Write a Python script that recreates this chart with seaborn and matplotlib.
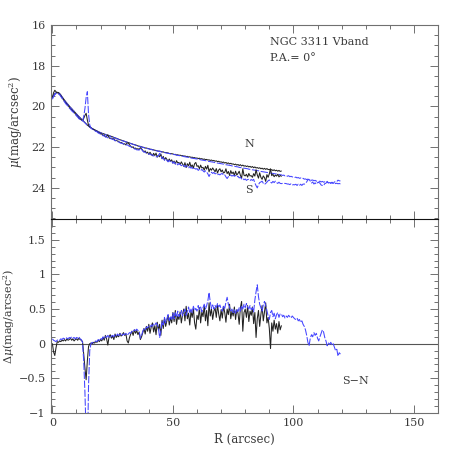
import numpy as np
import pandas as pd
import matplotlib
matplotlib.use("Agg")
import matplotlib.pyplot as plt
from matplotlib.ticker import MultipleLocator, FixedLocator, FuncFormatter
import seaborn as sns

# ---------------- data ----------------
step = 0.5
r_black = np.arange(0, 95.0 + step / 2, step)    # sampling radii, black profile
r_blue = np.arange(0, 119.5 + step / 2, step)    # sampling radii, blue profile

# North surface-brightness profile, black
mu_n_black = [
    19.55, 19.45, 19.38, 19.34, 19.31, 19.32, 19.37, 19.44, 19.53, 19.61,
    19.69, 19.77, 19.84, 19.91, 19.98, 20.05, 20.11, 20.18, 20.24, 20.31,
    20.37, 20.44, 20.50, 20.56, 20.62, 20.68, 20.74, 20.80, 20.86, 20.92,
    20.97, 21.01, 21.05, 21.09, 21.12, 21.15, 21.18, 21.21, 21.24, 21.27,
    21.29, 21.32, 21.34, 21.36, 21.38, 21.41, 21.42, 21.44, 21.46, 21.48,
    21.50, 21.53, 21.55, 21.57, 21.59, 21.62, 21.64, 21.66, 21.68, 21.70,
    21.72, 21.75, 21.76, 21.79, 21.80, 21.83, 21.84, 21.87, 21.88, 21.90,
    21.92, 21.95, 21.96, 21.97, 21.99, 22.01, 22.02, 22.05, 22.05, 22.07,
    22.08, 22.11, 22.11, 22.13, 22.14, 22.16, 22.17, 22.19, 22.20, 22.20,
    22.22, 22.24, 22.24, 22.27, 22.27, 22.28, 22.29, 22.32, 22.32, 22.33,
    22.34, 22.37, 22.36, 22.39, 22.38, 22.41, 22.40, 22.43, 22.42, 22.45,
    22.44, 22.47, 22.46, 22.49, 22.48, 22.51, 22.50, 22.53, 22.52, 22.55,
    22.54, 22.57, 22.55, 22.59, 22.57, 22.61, 22.59, 22.62, 22.61, 22.64,
    22.63, 22.66, 22.64, 22.68, 22.66, 22.70, 22.68, 22.72, 22.70, 22.74,
    22.73, 22.76, 22.74, 22.79, 22.76, 22.81, 22.78, 22.83, 22.80, 22.84,
    22.83, 22.87, 22.84, 22.89, 22.86, 22.91, 22.87, 22.93, 22.89, 22.94,
    22.92, 22.96, 22.93, 22.98, 22.95, 23.00, 22.96, 23.02, 22.98, 23.03,
    23.01, 23.05, 23.02, 23.07, 23.04, 23.09, 23.05, 23.10, 23.06, 23.11,
    23.10, 23.14, 23.11, 23.16, 23.12, 23.17, 23.14, 23.19, 23.15, 23.20,
    23.18,
]

# South minus North difference, black
d_black = [
    0.00, -0.12, -0.17, -0.06, 0.03, 0.02, 0.04, 0.03, 0.05, 0.04,
    0.06, 0.04, 0.07, 0.05, 0.06, 0.08, 0.05, 0.07, 0.04, 0.06,
    0.07, 0.05, 0.08, 0.06, 0.05, 0.03, -0.15, -0.35, -0.52, -0.25,
    -0.04, 0.00, 0.01, 0.00, 0.02, 0.01, 0.03, 0.02, 0.05, 0.03,
    0.06, 0.04, 0.09, 0.05, 0.12, 0.07, -0.02, 0.10, 0.13, 0.08,
    0.11, 0.06, 0.14, 0.09, 0.12, 0.10, 0.15, 0.11, 0.13, 0.16,
    0.12, 0.14, 0.04, 0.01, 0.09, 0.14, 0.18, 0.12, 0.20, 0.15,
    0.19, 0.13, 0.17, 0.06, 0.10, 0.16, 0.22, 0.14, 0.25, 0.18,
    0.28, 0.15, 0.24, 0.30, 0.17, 0.26, 0.13, 0.31, 0.20, 0.28,
    0.12, 0.34, 0.22, 0.37, 0.25, 0.33, 0.41, 0.27, 0.38, 0.30,
    0.45, 0.32, 0.48, 0.28, 0.40, 0.35, 0.46, 0.30, 0.42, 0.50,
    0.33, 0.54, 0.36, 0.44, 0.27, 0.47, 0.38, 0.51, 0.30, 0.21,
    0.41, 0.35, 0.52, 0.30, 0.46, 0.39, 0.55, 0.33, 0.48, 0.26,
    0.59, 0.40, 0.50, 0.35, 0.47, 0.52, 0.38, 0.56, 0.43, 0.33,
    0.49, 0.37, 0.54, 0.45, 0.31, 0.50, 0.42, 0.57, 0.36, 0.47,
    0.40, 0.53, 0.35, 0.49, 0.44, 0.28, 0.52, 0.61, 0.18, 0.45,
    0.50, 0.38, 0.55, 0.32, 0.47, 0.41, 0.53, 0.29, 0.45, 0.09,
    0.36, 0.48, 0.25, 0.42, 0.55, 0.33, 0.46, 0.59, 0.30, 0.38,
    0.22, -0.07, 0.30, 0.18, 0.34, 0.21, 0.29, 0.15, 0.32, 0.20,
    0.26,
]

# North surface-brightness profile, blue
mu_n_blue = [
    19.58, 19.47, 19.39, 19.34, 19.32, 19.33, 19.38, 19.45, 19.54, 19.62,
    19.70, 19.78, 19.85, 19.92, 19.99, 20.06, 20.12, 20.19, 20.25, 20.32,
    20.38, 20.45, 20.51, 20.57, 20.63, 20.69, 20.75, 20.81, 20.87, 20.93,
    20.98, 21.02, 21.06, 21.10, 21.13, 21.16, 21.19, 21.22, 21.25, 21.28,
    21.30, 21.33, 21.35, 21.37, 21.39, 21.42, 21.43, 21.45, 21.47, 21.49,
    21.51, 21.54, 21.56, 21.58, 21.60, 21.63, 21.65, 21.67, 21.69, 21.71,
    21.73, 21.75, 21.77, 21.79, 21.81, 21.83, 21.85, 21.87, 21.89, 21.91,
    21.93, 21.95, 21.97, 21.98, 22.00, 22.02, 22.03, 22.05, 22.06, 22.08,
    22.09, 22.11, 22.12, 22.14, 22.15, 22.17, 22.18, 22.19, 22.21, 22.22,
    22.23, 22.25, 22.26, 22.27, 22.29, 22.30, 22.31, 22.32, 22.34, 22.35,
    22.36, 22.37, 22.38, 22.40, 22.41, 22.42, 22.43, 22.44, 22.45, 22.47,
    22.48, 22.49, 22.50, 22.51, 22.52, 22.54, 22.55, 22.56, 22.57, 22.58,
    22.59, 22.60, 22.61, 22.63, 22.64, 22.65, 22.66, 22.67, 22.68, 22.70,
    22.71, 22.72, 22.73, 22.74, 22.75, 22.77, 22.78, 22.79, 22.80, 22.81,
    22.82, 22.83, 22.84, 22.86, 22.87, 22.88, 22.89, 22.90, 22.91, 22.93,
    22.94, 22.95, 22.96, 22.97, 22.98, 23.00, 23.01, 23.02, 23.03, 23.04,
    23.05, 23.06, 23.07, 23.09, 23.10, 23.11, 23.12, 23.13, 23.14, 23.15,
    23.16, 23.17, 23.18, 23.20, 23.21, 23.22, 23.23, 23.24, 23.25, 23.26,
    23.27, 23.28, 23.29, 23.30, 23.31, 23.32, 23.33, 23.34, 23.35, 23.36,
    23.37, 23.40, 23.38, 23.42, 23.40, 23.44, 23.41, 23.46, 23.44, 23.47,
    23.47, 23.50, 23.48, 23.52, 23.50, 23.54, 23.52, 23.56, 23.54, 23.58,
    23.57, 23.60, 23.58, 23.62, 23.60, 23.64, 23.62, 23.66, 23.64, 23.68,
    23.67, 23.70, 23.68, 23.72, 23.69, 23.73, 23.71, 23.74, 23.72, 23.76,
    23.75, 23.77, 23.75, 23.79, 23.77, 23.80, 23.78, 23.81, 23.79, 23.82,
]

# South minus North difference, blue
d_blue = [
    0.07, 0.05, 0.04, 0.03, 0.05, 0.06, 0.05, 0.07, 0.06, 0.08,
    0.07, 0.09, 0.08, 0.07, 0.09, 0.08, 0.10, 0.08, 0.09, 0.07,
    0.09, 0.08, 0.10, 0.07, 0.06, 0.02, -0.25, -0.70, -1.30, -1.65,
    -0.60, -0.10, 0.00, 0.02, 0.01, 0.03, 0.04, 0.03, 0.06, 0.05,
    0.08, 0.06, 0.10, 0.08, 0.11, 0.09, 0.12, 0.10, 0.08, 0.11,
    0.12, 0.10, 0.13, 0.11, 0.14, 0.12, 0.13, 0.15, 0.12, 0.14,
    0.13, 0.15, 0.12, 0.14, 0.16, 0.15, 0.18, 0.17, 0.20, 0.19,
    0.21, 0.19, 0.18, 0.08, 0.12, 0.18, 0.22, 0.20, 0.24, 0.23,
    0.26, 0.24, 0.27, 0.25, 0.29, 0.27, 0.30, 0.28, 0.22, 0.09,
    0.18, 0.32, 0.27, 0.38, 0.30, 0.36, 0.42, 0.33, 0.40, 0.35,
    0.44, 0.36, 0.45, 0.38, 0.47, 0.39, 0.43, 0.48, 0.40, 0.46,
    0.50, 0.41, 0.47, 0.53, 0.44, 0.50, 0.45, 0.54, 0.48, 0.51,
    0.47, 0.55, 0.49, 0.53, 0.46, 0.52, 0.57, 0.50, 0.55, 0.62,
    0.74, 0.60, 0.51, 0.56, 0.50, 0.55, 0.52, 0.58, 0.53, 0.56,
    0.50, 0.47, 0.55, 0.51, 0.60, 0.67, 0.57, 0.53, 0.47, 0.50,
    0.45, 0.49, 0.44, 0.50, 0.46, 0.52, 0.47, 0.55, 0.50, 0.57,
    0.52, 0.58, 0.53, 0.50, 0.55, 0.49, 0.52, 0.46, 0.63, 0.75,
    0.85, 0.68, 0.57, 0.52, 0.47, 0.56, 0.61, 0.55, 0.48, 0.40,
    0.35, 0.45, 0.48, 0.39, 0.44, 0.36, 0.42, 0.45, 0.38, 0.43,
    0.43, 0.39, 0.41, 0.37, 0.40, 0.38, 0.41, 0.39, 0.37, 0.40,
    0.38, 0.36, 0.35, 0.37, 0.33, 0.35, 0.31, 0.33, 0.28, 0.25,
    0.20, 0.12, 0.02, -0.03, 0.08, 0.13, 0.10, 0.16, 0.12, 0.15,
    0.08, 0.04, 0.10, 0.15, 0.20, 0.17, 0.09, 0.04, -0.03, 0.01,
    -0.01, 0.02, -0.02, 0.00, -0.05, -0.10, -0.08, -0.18, -0.13, -0.15,
]

top_yticks = [16, 18, 20, 22, 24]
bot_yticks = [-1, -0.5, 0, 0.5, 1, 1.5]
x_ticks = [0, 50, 100, 150]

# ---------------- tables ----------------
black = pd.DataFrame({"R": r_black, "N": mu_n_black, "D": d_black})
black["S"] = black["N"] + black["D"]
blue = pd.DataFrame({"R": r_blue, "N": mu_n_blue, "D": d_blue})
blue["S"] = blue["N"] + blue["D"]

# ---------------- style ----------------
sns.set_style("ticks")
plt.rcParams["font.family"] = ["DejaVu Serif", "DejaVu Sans"]
plt.rcParams["mathtext.fontset"] = "dejavuserif"
TXT = "#3a3a3a"
FRAME = "#707070"
BLK = "#222222"
BLU = "#4444ff"
fs = 8

fig = plt.figure(figsize=(4.63, 4.63), dpi=100)
ax1 = fig.add_axes([0.1095, 0.527, 0.8366, 0.419])
ax2 = fig.add_axes([0.1095, 0.108, 0.8366, 0.419])

dash = (0, (7, 1.6))
lw = 0.75

for col in ["N", "S"]:
    sns.lineplot(data=black, x="R", y=col, ax=ax1, color=BLK, lw=lw,
                 sort=False, estimator=None, legend=False)
    sns.lineplot(data=blue, x="R", y=col, ax=ax1, color=BLU, lw=lw,
                 linestyle=dash, sort=False, estimator=None, legend=False)

sns.lineplot(data=black, x="R", y="D", ax=ax2, color=BLK, lw=lw,
             sort=False, estimator=None, legend=False)
sns.lineplot(data=blue, x="R", y="D", ax=ax2, color=BLU, lw=lw,
             linestyle=dash, sort=False, estimator=None, legend=False)
ax2.axhline(0, color="#555555", lw=0.8, zorder=1)

# ---------------- axes ----------------
for ax in (ax1, ax2):
    ax.set_xlim(-0.7, 160)
    ax.xaxis.set_major_locator(FixedLocator(x_ticks))
    ax.xaxis.set_minor_locator(MultipleLocator(10))
    ax.tick_params(which="both", direction="in", top=True, right=True,
                   colors=FRAME, labelcolor=TXT, labelsize=fs, width=0.7)
    ax.tick_params(which="major", length=6)
    ax.tick_params(which="minor", length=3)
    for s in ax.spines.values():
        s.set_color(FRAME)
        s.set_linewidth(0.8)
    ax.set_xlabel("")
    ax.set_ylabel("")

# shared divider line between the panels
ax1.spines["bottom"].set_visible(False)
ax2.spines["top"].set_color("#111111")
ax2.spines["top"].set_linewidth(0.8)

ax1.set_ylim(25.54, 16)
ax1.yaxis.set_major_locator(FixedLocator(top_yticks))
ax1.yaxis.set_minor_locator(MultipleLocator(0.5))
ax1.tick_params(labelbottom=False)

ax2.set_ylim(-1.0, 1.8)
ax2.yaxis.set_major_locator(FixedLocator(bot_yticks))
ax2.yaxis.set_minor_locator(MultipleLocator(0.1))

def fmt(v, pos):
    s = ("%g" % v)
    return s.replace("-", "\u2212")

ax2.yaxis.set_major_formatter(FuncFormatter(fmt))

ax1.set_ylabel("$\\mu$(mag/arcsec$^2$)", fontsize=fs + 0.5, color=TXT)
ax2.set_ylabel("$\\Delta\\mu$(mag/arcsec$^2$)", fontsize=fs, color=TXT)
ax1.yaxis.set_label_coords(-0.066, 0.5)
ax2.yaxis.set_label_coords(-0.086, 0.5)
ax2.set_xlabel("R (arcsec)", fontsize=fs + 0.5, color=TXT, labelpad=4)

ax1.text(90.2, 16.84, "NGC 3311 Vband", fontsize=fs, color=TXT, va="center", ha="left")
ax1.text(90.2, 17.62, "P.A.= 0\u00b0", fontsize=fs, color=TXT, va="center", ha="left")
ax1.text(81.6, 21.85, "N", fontsize=fs, color=TXT, va="center", ha="center")
ax1.text(81.6, 24.1, "S", fontsize=fs, color=TXT, va="center", ha="center")
ax2.text(120.4, -0.54, "S\u2212N", fontsize=fs, color=TXT, va="center", ha="left")

fig.savefig("out.png", dpi=100)
